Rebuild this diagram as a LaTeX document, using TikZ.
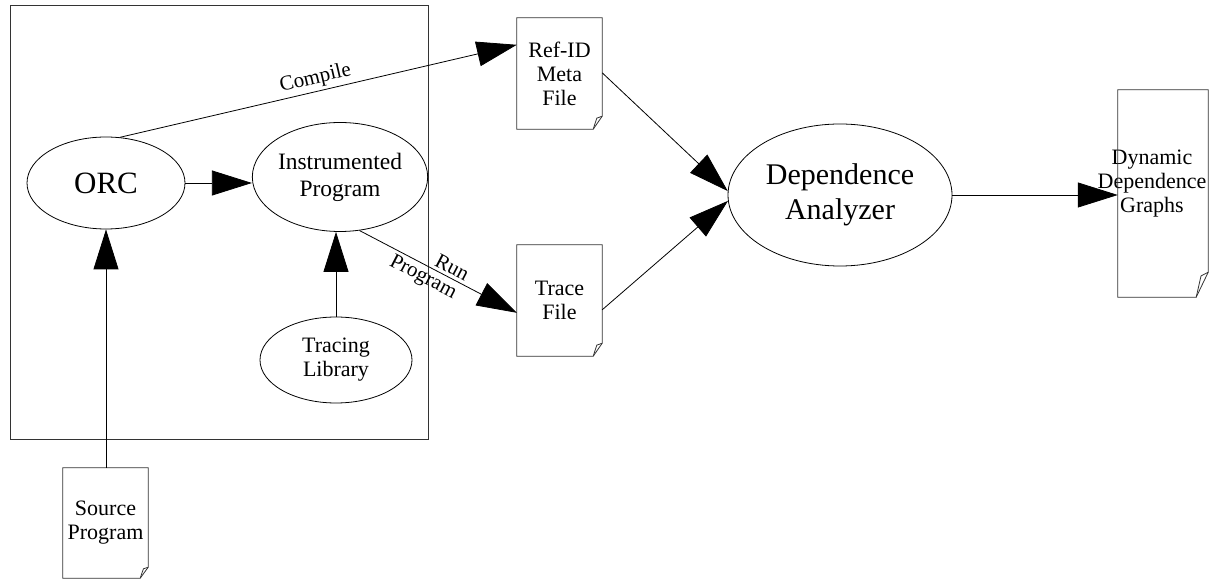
\documentclass[tikz,border=0pt]{standalone}
\usepackage{fontspec}
\setmainfont{Liberation Serif}
\usetikzlibrary{arrows.meta,shapes.geometric}
\newcommand\docshape[3]{%
  \draw[docline] (#1.north west) -- (#1.north east) -- ([yshift=#2]#1.south east)
    -- ([xshift=-#3]#1.south east) -- (#1.south west) -- cycle;
  \draw[docline] ([yshift=#2]#1.south east) -- ([xshift=-0.6*#3,yshift=0.85*#2]#1.south east)
    -- ([xshift=-#3]#1.south east);
}
\tikzset{
  proc/.style={draw, ellipse, line width=0.8pt, inner sep=0pt, align=center},
  docnode/.style={rectangle, inner sep=0pt, align=center, font=\fontsize{22pt}{24pt}\selectfont},
  docline/.style={line width=0.8pt, black!80},
  arr/.style={line width=0.8pt, -{Triangle[length=40pt,width=25pt]}},
  lbl/.style={font=\fontsize{21pt}{24pt}\selectfont, inner sep=3pt},
}
\begin{document}
\begin{tikzpicture}[x=1pt,y=1pt]
\useasboundingbox (0,0) rectangle (1209,578);
\node[draw=black!80, line width=0.8pt, minimum width=418pt, minimum height=434pt, inner sep=0pt] (frame) at (219,356) {};
\node[proc, minimum width=158pt, minimum height=92pt, font=\fontsize{31pt}{34pt}\selectfont] (orc) at (106,395) {ORC};
\node[proc, minimum width=152pt, minimum height=109pt, font=\fontsize{23.5pt}{27pt}\selectfont] (instr) at (340,401) {Instrumented\\Program};
\node[proc, minimum width=152pt, minimum height=86pt, font=\fontsize{22pt}{24pt}\selectfont] (tracing) at (336,218) {Tracing\\Library};
\node[proc, minimum width=224pt, minimum height=142pt, font=\fontsize{30pt}{35pt}\selectfont] (da) at (840,383) {Dependence\\Analyzer};
\node[docnode, minimum width=85pt, minimum height=111pt] (ref) at (559.5,504.5) {Ref-ID\\Meta\\File};
\node[docnode, minimum width=85pt, minimum height=111pt] (trace) at (559.5,277.5) {Trace\\File};
\node[docnode, minimum width=90pt, minimum height=207pt,
  label={[docnode, xshift=-11pt, yshift=10pt]center:Dynamic\\Dependence\\Graphs}] (ddg) at (1163,384.5) {};
\node[docnode, minimum width=85pt, minimum height=110pt] (src) at (105.5,55) {Source\\Program};
\docshape{ref}{13pt}{9pt}
\docshape{trace}{13pt}{9pt}
\docshape{ddg}{25pt}{12pt}
\docshape{src}{11pt}{8pt}
\draw[arr] (orc.east) -- (instr.west |- orc.east);
\draw[arr] (src.north -| orc.south) -- (orc.south);
\draw[arr] (tracing.north) -- (tracing.north |- instr.south);
\draw[arr] (orc.73) -- node[lbl, sloped, above, pos=0.5] {Compile} ([yshift=-27pt]ref.north west);
\draw[arr] (instr.290) -- node[lbl, sloped, above, pos=0.56] {Run} node[lbl, sloped, below, pos=0.44] {Program} ([yshift=-68pt]trace.north west);
\draw[arr] ([yshift=-55pt]ref.north east) -- (da.178.5);
\draw[arr] ([yshift=-65pt]trace.north east) -- (da.183.5);
\draw[arr] (da.east) -- (ddg.west |- da.east);
\end{tikzpicture}
\end{document}
